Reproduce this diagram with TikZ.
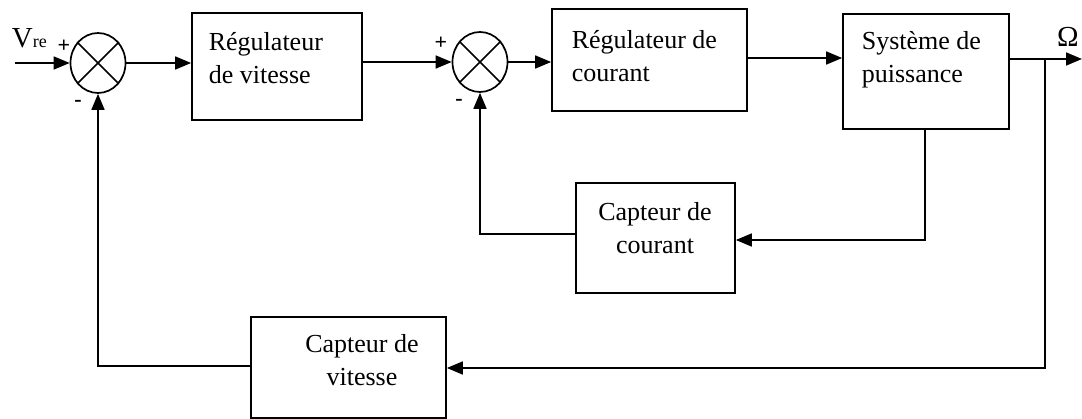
\documentclass[tikz,border=0pt]{standalone}
\usepackage{fontspec}
\setmainfont{Liberation Serif}
\usetikzlibrary{shapes.geometric,arrows.meta}
\begin{document}
\begin{tikzpicture}[x=1pt,y=-1pt,
  line width=1.7pt,
  font=\fontsize{26}{33}\selectfont,
  arr/.style={-{Triangle[length=16pt,width=13pt]}},
  blk/.style={draw,minimum width=#1,inner sep=0pt},
  sumj/.style={draw,ellipse,minimum width=55pt,minimum height=60pt,inner sep=0pt},
  txt/.style={inner sep=0pt,align=left},
  ctxt/.style={inner sep=0pt,align=center},
  sgn/.style={inner sep=0pt,font=\fontsize{22}{22}\selectfont\bfseries}]
\useasboundingbox (0,0) rectangle (1082,419);
% summing junctions
\node[sumj] (s1) at (98,63) {};
\draw (s1.45) -- (s1.225) (s1.135) -- (s1.315);
\node[sumj] (s2) at (480,62) {};
\draw (s2.45) -- (s2.225) (s2.135) -- (s2.315);
% blocks
\node[blk=170pt,minimum height=107pt] (b1) at (277,66.5) {};
\node[blk=195pt,minimum height=102pt] (b2) at (649.5,60) {};
\node[blk=166pt,minimum height=115pt] (b3) at (926,71.5) {};
\node[blk=159pt,minimum height=110pt] (cc) at (655.5,238) {};
\node[blk=195pt,minimum height=101pt] (cv) at (348.5,367.5) {};
% texts
\node[txt,anchor=west] (t1) at (208,58) {Régulateur\\de vitesse};
\node[txt,anchor=west] (t2) at (571,56) {Régulateur de\\courant};
\node[txt,anchor=west] (t3) at (861,60) {Système de\\puissance};
\node[ctxt] (t4) at (655,228) {Capteur de\\courant};
\node[ctxt] (t5) at (362,360) {Capteur de\\vitesse};
\node[inner sep=0pt,anchor=base west] (vre) at (11,48) {\fontsize{29}{29}\selectfont V{\fontsize{18}{18}\selectfont re}};
\node[inner sep=0pt,anchor=base] (om) at (1068,47) {\fontsize{29}{29}\selectfont Ω};
\node[sgn] (p1) at (64,46) {+};
\node[sgn] (m1) at (78,103) {-};
\node[sgn] (p2) at (441,43) {+};
\node[sgn] (m2) at (459,102) {-};
% connectors
\coordinate (in) at (15,63);
\coordinate (out) at (1082,59);
\coordinate (br) at (1045,59);
\draw[arr] (in) -- (s1.west);
\draw[arr] (s1.east) -- (b1.west |- s1.east);
\draw[arr] (b1.east |- s2.west) -- (s2.west);
\draw[arr] (s2.east) -- (b2.west |- s2.east);
\draw[arr] (b2.east |- 0,58) -- (b3.west |- 0,58);
\draw[arr] (b3.east |- out) -- (out);
\draw[arr] (br) -- (br |- 0,368) -- (cv.east |- 0,368);
\draw[arr] (b3.south -| 925,0) -- (925,240) -- (cc.east |- 0,240);
\draw[arr] (cc.west |- 0,234) -- (s2.south |- 0,234) -- (s2.south);
\draw[arr] (cv.west |- 0,366) -- (s1.south |- 0,366) -- (s1.south);
\end{tikzpicture}
\end{document}
